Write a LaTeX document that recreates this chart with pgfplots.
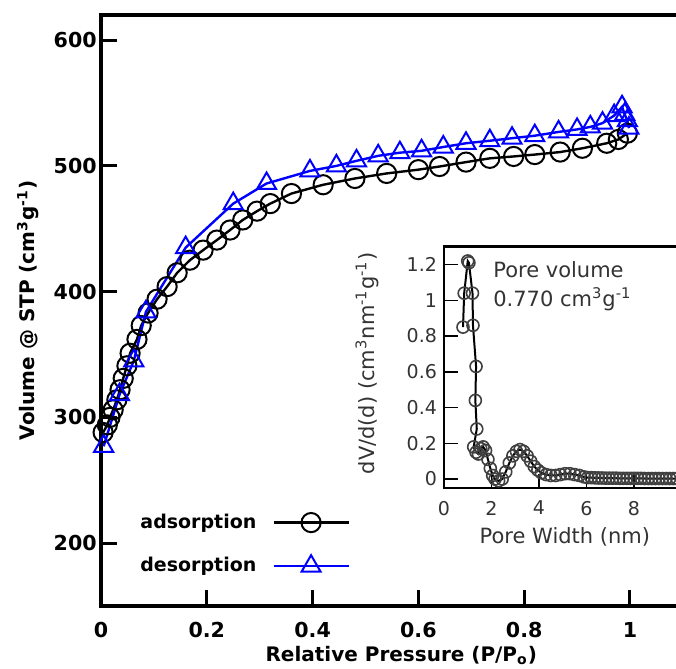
\documentclass[border=0pt]{standalone}
\usepackage{pgfplots}
\pgfplotsset{compat=1.18}
\usepackage{fontspec}
\setmainfont{DejaVu Sans}

\begin{document}
\begin{tikzpicture}
\path[use as bounding box] (0pt,0pt) rectangle (338pt,334.5pt);

% main isotherm
\begin{axis}[
  at={(50.5pt,31.5pt)}, anchor=south west,
  scale only axis, width=290.95pt, height=295.5pt,
  xmin=0, xmax=1.1, ymin=150, ymax=620,
  xtick={0,0.2,0.4,0.6,0.8,1},
  ytick={200,300,400,500,600},
  tick pos=left, tick align=inside,
  major tick length=8pt,
  axis line style={line width=2pt},
  every tick/.style={black, line width=1.5pt},
  /pgf/number format/assume math mode=true,
  tick label style={font=\fontsize{10.3}{12}\selectfont\bfseries},
  xticklabel style={yshift=-4.6pt},
  yticklabel style={xshift=1.4pt},
  xlabel={Relative Pressure (P/P\textsubscript{o})},
  ylabel={Volume @ STP (cm\textsuperscript{3}g\textsuperscript{-1})},
  label style={font=\fontsize{10}{12}\selectfont\bfseries},
  xlabel style={at={(axis description cs:0.516,-0.083)}, anchor=center},
  ylabel style={at={(axis description cs:-0.1255,0.5)}, anchor=center},
  legend plot pos=right, legend cell align=right,
  legend style={draw=none, fill=none, inner sep=0pt, nodes={inner sep=0pt},
    at={(axis description cs:0.067,0.105)}, anchor=west,
    row sep=11.5pt, column sep=8pt,
    font=\fontsize{9.5}{11}\selectfont\bfseries},
  legend image code/.code={\draw[mark repeat=2,mark phase=2,#1] plot coordinates {(0pt,0pt) (18.75pt,0pt) (37.5pt,0pt)};},
]
\addplot[black, line width=1.2pt, mark=o, mark size=4.8pt, mark options={line width=1pt}] coordinates {
  (0.004,288) (0.012,294) (0.017,300) (0.023,306) (0.030,314) (0.036,322)
  (0.042,331) (0.049,341) (0.055,351) (0.068,362) (0.076,373) (0.089,383)
  (0.106,394) (0.125,404) (0.144,415) (0.168,425) (0.193,433) (0.219,441)
  (0.244,449) (0.268,457) (0.295,464) (0.320,470) (0.360,478) (0.420,485)
  (0.480,490) (0.540,494) (0.600,497) (0.640,499.5) (0.690,503) (0.735,506)
  (0.780,507.5) (0.820,509) (0.868,511) (0.910,514) (0.956,518) (0.978,521)
  (0.995,526)
};
\addlegendentry{adsorption}
\addplot[blue, line width=1.2pt, mark=triangle, mark size=5.5pt, mark options={line width=1pt}] coordinates {
  (0.998,530) (0.995,536) (0.990,541) (0.985,547) (0.970,540) (0.948,534)
  (0.925,531) (0.900,529) (0.865,527) (0.820,524) (0.777,522) (0.735,520)
  (0.690,518) (0.647,515) (0.606,512) (0.565,510.5) (0.524,508) (0.483,504)
  (0.445,500) (0.395,496) (0.313,486) (0.250,470) (0.160,435) (0.085,384)
  (0.062,345) (0.035,318) (0.005,277)
};
\addlegendentry{desorption}
\end{axis}

% inset: pore size distribution
\begin{axis}[
  at={(222pt,90.5pt)}, anchor=south west,
  scale only axis, width=118.75pt, height=120.65pt,
  xmin=0, xmax=10, ymin=-0.05, ymax=1.3,
  xtick={0,2,4,6,8},
  ytick={0,0.2,0.4,0.6,0.8,1,1.2},
  tick pos=left, tick align=inside,
  major tick length=7pt,
  axis line style={line width=1.2pt},
  every tick/.style={black, line width=0.8pt},
  axis background/.style={fill=white},
  /pgf/number format/assume math mode=true,
  tick label style={font=\fontsize{9.5}{11}\selectfont, black!80},
  xticklabel style={yshift=-3pt},
  xlabel={Pore Width (nm)},
  ylabel={dV/d(d) (cm\textsuperscript{3}nm\textsuperscript{-1}g\textsuperscript{-1})},
  label style={font=\fontsize{10.5}{12}\selectfont, black!80},
  xlabel style={at={(axis description cs:0.509,-0.203)}, anchor=center},
  ylabel style={at={(axis description cs:-0.324,0.516)}, anchor=center},
]
\addplot[black, line width=1pt, mark=o, mark size=3pt, mark options={black!75, line width=0.8pt}] coordinates {
  (0.80,0.85) (0.85,1.04) (1.00,1.22) (1.05,1.21) (1.20,1.04) (1.22,0.86)
  (1.35,0.63) (1.32,0.44) (1.38,0.28) (1.25,0.18) (1.35,0.15) (1.45,0.14)
  (1.55,0.17) (1.65,0.18) (1.75,0.16) (1.85,0.11) (1.95,0.06) (2.05,0.02)
  (2.15,0.00) (2.30,-0.01) (2.45,0.00) (2.60,0.04) (2.75,0.09) (2.90,0.13)
  (3.05,0.155) (3.20,0.165) (3.35,0.155) (3.50,0.13) (3.65,0.10) (3.80,0.07)
  (3.95,0.05) (4.10,0.035) (4.30,0.025) (4.50,0.02) (4.70,0.02) (4.90,0.025)
  (5.10,0.03) (5.30,0.03) (5.50,0.025) (5.70,0.02) (5.90,0.012) (6.05,0.008)
  (6.20,0.008) (6.35,0.007) (6.50,0.006) (6.65,0.006) (6.80,0.005) (6.95,0.005)
  (7.10,0.005) (7.25,0.005) (7.40,0.004) (7.55,0.004) (7.70,0.004) (7.85,0.004)
  (8.00,0.004) (8.15,0.004) (8.30,0.004) (8.45,0.003) (8.60,0.003) (8.75,0.003)
  (8.90,0.003) (9.05,0.003) (9.20,0.003) (9.35,0.003) (9.50,0.003) (9.65,0.003)
  (9.80,0.003)
};
\node[anchor=base west, inner sep=0pt, font=\fontsize{10.5}{12}\selectfont, text=black!80] at (axis cs:2.06,1.13) {Pore volume};
\node[anchor=base west, inner sep=0pt, font=\fontsize{10.5}{12}\selectfont, text=black!80] at (axis cs:2.06,0.963) {0.770 cm\textsuperscript{3}g\textsuperscript{-1}};
\end{axis}
\end{tikzpicture}
\end{document}
